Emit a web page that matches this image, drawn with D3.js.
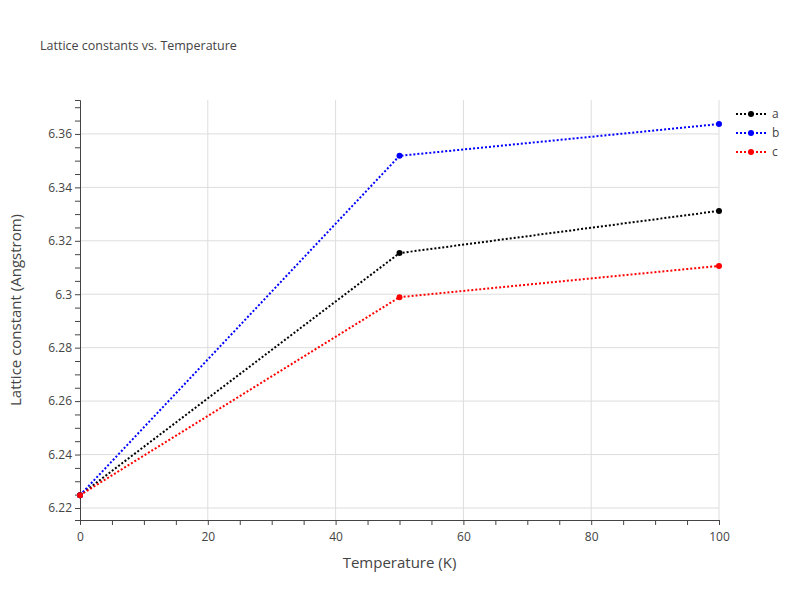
<!DOCTYPE html>
<html><head><meta charset="utf-8">
<script src="https://cdn.jsdelivr.net/npm/d3@7"></script>
<style>body{margin:0;background:#fff}text{font-family:"Open Sans",Verdana,sans-serif}</style>
</head><body><div id="chart"></div>
<script>
const temps = [0, 50, 100]
const aVals = [6.2248, 6.3154, 6.3312]
const bVals = [6.2248, 6.3518, 6.3637]
const cVals = [6.2248, 6.2989, 6.3106]
const series = [
    { name: 'a', values: aVals, color: 'black' },
    { name: 'b', values: bVals, color: 'blue' },
    { name: 'c', values: cVals, color: 'red' },
]
const yTicks = [6.22, 6.24, 6.26, 6.28, 6.3, 6.32, 6.34, 6.36]

const width = 800, height = 600
const m = { l: 80, r: 81, t: 100, b: 80 }
const svg = d3.select('#chart').append('svg').attr('width', width).attr('height', height)

const x = d3.scaleLinear().domain([0, 100]).range([m.l, width - m.r])
const y = d3.scaleLinear().domain([6.2155, 6.3727]).range([height - m.b, m.t])

// grid
svg.append('g').selectAll('line').data(d3.range(20, 101, 20)).join('line')
    .attr('x1', d => x(d)).attr('x2', d => x(d)).attr('y1', m.t).attr('y2', height - m.b)
    .attr('stroke', '#ddd')
svg.append('g').selectAll('line').data(yTicks).join('line')
    .attr('y1', d => y(d)).attr('y2', d => y(d)).attr('x1', m.l).attr('x2', width - m.r)
    .attr('stroke', '#ddd')

// axes
const xAxis = svg.append('g').attr('transform', `translate(0,${height - m.b})`)
xAxis.call(d3.axisBottom(x).tickValues(d3.range(0, 101, 5)).tickSize(5).tickFormat(d => d % 20 === 0 ? d : ''))
const yAxis = svg.append('g').attr('transform', `translate(${m.l},0)`)
yAxis.call(d3.axisLeft(y).tickValues(d3.range(6.22, 6.3701, 0.005)).tickSize(5)
    .tickFormat(d => yTicks.some(t => Math.abs(t - d) < 1e-6) ? d3.format('.3~f')(d) : ''))
svg.selectAll('.domain').attr('stroke', '#444')
svg.selectAll('.tick line').attr('stroke', '#444')
svg.selectAll('.tick text').attr('fill', '#444').style('font-size', '12px')
xAxis.selectAll('.tick text').attr('dy', '1.1em')

svg.append('text').attr('x', (m.l + width - m.r) / 2).attr('y', 568).attr('text-anchor', 'middle')
    .attr('fill', '#444').style('font-size', '15px').text('Temperature (K)')
svg.append('text').attr('transform', `translate(21,${(m.t + height - m.b) / 2}) rotate(-90)`)
    .attr('text-anchor', 'middle').attr('fill', '#444').style('font-size', '15px').text('Lattice constant (Angstrom)')
svg.append('text').attr('x', 40).attr('y', 50).attr('fill', '#444').style('font-size', '12.5px')
    .text('Lattice constants vs. Temperature')

// lines
const line = d3.line().x((d, i) => x(temps[i])).y(d => y(d))
const plot = svg.append('g')
series.forEach(s => {
    plot.append('path').datum(s.values).attr('d', line).attr('fill', 'none')
        .attr('stroke', s.color).attr('stroke-width', 2).attr('stroke-dasharray', '2,2')
    plot.selectAll(null).data(s.values).join('circle')
        .attr('cx', (d, i) => x(temps[i])).attr('cy', d => y(d)).attr('r', 3).attr('fill', s.color)
})

// legend
const leg = svg.append('g').attr('transform', 'translate(736,114)')
series.forEach((s, i) => {
    const g = leg.append('g').attr('transform', `translate(0,${i * 19})`)
    g.append('line').attr('x1', 0).attr('x2', 30).attr('stroke', s.color).attr('stroke-width', 2).attr('stroke-dasharray', '2,2')
    g.append('circle').attr('cx', 15).attr('r', 3).attr('fill', s.color)
    g.append('text').attr('x', 36).attr('dy', '0.35em').attr('fill', '#444').style('font-size', '12px').text(s.name)
})
</script></body></html>
